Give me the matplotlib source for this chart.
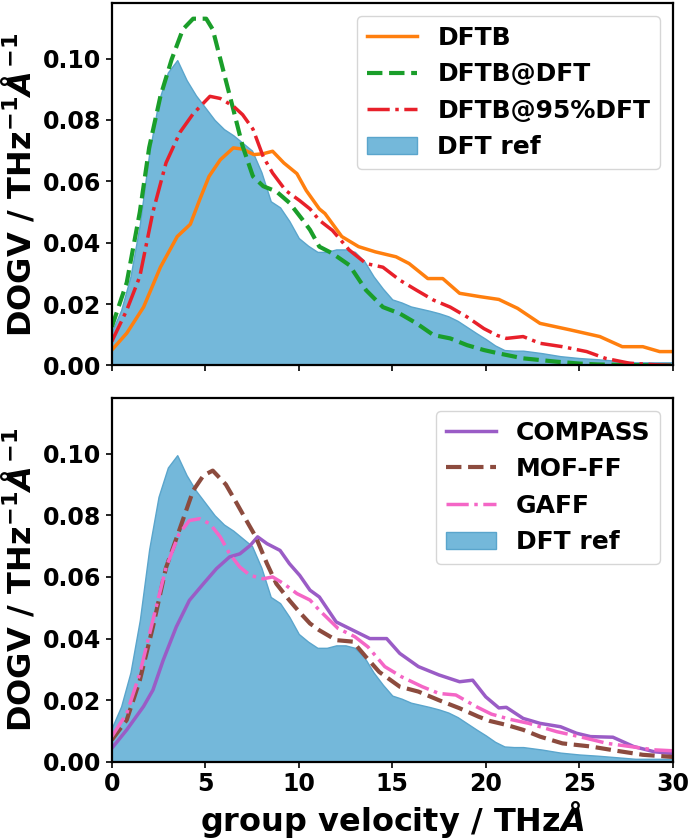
import numpy as np
import matplotlib
matplotlib.use("Agg")
import matplotlib.pyplot as plt

plt.rcParams['font.family'] = ['DejaVu Sans']
plt.rcParams['font.weight'] = 'bold'
plt.rcParams['mathtext.fontset'] = 'custom'
plt.rcParams['mathtext.rm'] = 'DejaVu Sans:bold'
plt.rcParams['mathtext.bf'] = 'DejaVu Sans:bold'
plt.rcParams['mathtext.it'] = 'DejaVu Sans:bold:italic'

# ---- DFT reference ----
ref_x = [0, 0.5, 1, 1.5, 2, 2.5, 3, 3.5, 4, 4.5, 5, 5.5, 6, 6.5, 7, 7.5, 8, 8.5, 9, 9.5,
         10, 10.5, 11, 11.5, 12, 12.5, 13, 13.5, 14, 14.5, 15, 15.5, 16, 16.5, 17, 17.5,
         18, 18.5, 19, 19.5, 20, 20.5, 21, 21.5, 22, 23, 24, 25, 26, 27, 28, 29, 30]
ref_y = [0.011, 0.018, 0.029, 0.046, 0.069, 0.086, 0.0955, 0.0995, 0.093, 0.088, 0.084, 0.080,
         0.077, 0.075, 0.0725, 0.070, 0.063, 0.0535, 0.0515, 0.047, 0.0415, 0.039, 0.037, 0.037,
         0.0378, 0.0378, 0.037, 0.034, 0.029, 0.025, 0.0215, 0.0205, 0.0192, 0.0185, 0.0178,
         0.017, 0.016, 0.0145, 0.0125, 0.0105, 0.0086, 0.0065, 0.005, 0.0048, 0.0048, 0.004,
         0.003, 0.0024, 0.002, 0.0015, 0.001, 0.001, 0.001]

# ---- top panel ----
dftb_x = [0, 0.8, 1.7, 2.6, 3.5, 4.2, 4.7, 5.2, 5.8, 6.5, 7.0, 7.6, 8.1, 8.6, 9.2, 9.9, 10.4,
          11.1, 11.4, 12.3, 13.2, 14.1, 15.2, 15.9, 16.9, 17.7, 18.6, 19.7, 20.7, 21.7, 22.9,
          24.5, 26.1, 27.3, 28.4, 29.3, 30]
dftb_y = [0.005, 0.0105, 0.019, 0.032, 0.042, 0.046, 0.054, 0.0616, 0.067, 0.0709, 0.0705,
          0.0687, 0.069, 0.0698, 0.066, 0.0625, 0.057, 0.051, 0.0495, 0.042, 0.0387, 0.037,
          0.0354, 0.0332, 0.0283, 0.0283, 0.0235, 0.0224, 0.0215, 0.0186, 0.0137, 0.0116,
          0.0094, 0.0061, 0.0061, 0.0045, 0.0045]

dftbdft_x = [0, 0.8, 1.5, 2.0, 2.6, 3.2, 3.8, 4.35, 5.05, 5.4, 5.95, 6.5, 7.0, 7.55, 8.1, 8.8,
             9.5, 10.2, 10.6, 11.1, 11.8, 12.7, 13.6, 14.5, 15.4, 16.3, 17.2, 18.1, 19.0,
             19.9, 20.7, 22.0, 23.8, 25, 26, 28, 30]
dftbdft_y = [0.0125, 0.027, 0.050, 0.071, 0.0877, 0.0997, 0.1095, 0.113, 0.113, 0.1095,
             0.0964, 0.0834, 0.0714, 0.0616, 0.0584, 0.0567, 0.053, 0.0475, 0.0442, 0.0387,
             0.0365, 0.0327, 0.0245, 0.019, 0.0169, 0.0137, 0.0099, 0.0088, 0.0066, 0.005,
             0.0039, 0.0023, 0.0012, 0.0006, 0.0003, 0.0001, 0.0]

dftb95_x = [0, 0.8, 1.5, 2.2, 2.9, 3.65, 4.35, 5.25, 5.8, 6.5, 7.0, 7.55, 8.1, 8.6, 9.3,
            10.05, 10.6, 11.1, 11.8, 12.7, 13.6, 14.5, 15.4, 16.3, 17.2, 18.1, 19.0, 19.9,
            20.6, 21.1, 22.0, 22.9, 24.1, 25.4, 26.4, 27.7, 29.1, 30]
dftb95_y = [0.0078, 0.018, 0.029, 0.050, 0.066, 0.076, 0.082, 0.0877, 0.087, 0.0845, 0.0817,
            0.077, 0.068, 0.0627, 0.057, 0.0537, 0.051, 0.0473, 0.044, 0.0376, 0.0332, 0.032,
            0.0278, 0.0245, 0.0213, 0.019, 0.0158, 0.012, 0.0098, 0.0088, 0.0094, 0.0072,
            0.0061, 0.0045, 0.0023, 0.0007, 0.0002, 0.0]

# ---- bottom panel ----
compass_x = [0, 0.8, 1.7, 2.2, 2.75, 3.45, 4.15, 4.9, 5.6, 6.3, 6.85, 7.4, 7.8, 8.3, 9.0, 9.5,
             10.05, 10.6, 11.1, 12.0, 12.9, 13.8, 14.7, 15.4, 16.4, 17.5, 18.6, 19.3, 20.0,
             20.7, 21.1, 22.0, 22.9, 24.0, 24.85, 25.6, 26.8, 27.9, 29.0, 30]
compass_y = [0.0044, 0.0104, 0.018, 0.0233, 0.033, 0.0438, 0.0524, 0.0578, 0.0627, 0.0665,
             0.0675, 0.0702, 0.073, 0.0708, 0.0686, 0.0643, 0.0605, 0.0557, 0.0535, 0.0454,
             0.0427, 0.040, 0.040, 0.0352, 0.0309, 0.0282, 0.026, 0.0265, 0.0211, 0.0175,
             0.0177, 0.0141, 0.0125, 0.0114, 0.0093, 0.0082, 0.008, 0.005, 0.0033, 0.0027]

moff_x = [0, 0.8, 1.5, 2.2, 2.9, 3.6, 4.35, 4.9, 5.4, 6.1, 6.7, 7.2, 7.7, 8.3, 8.8, 9.5,
          10.05, 10.6, 11.1, 12.0, 12.9, 13.6, 14.3, 15.4, 16.4, 17.5, 18.6, 19.6, 20.2,
          21.1, 22.0, 22.9, 24.1, 25.6, 27.0, 28.4, 30]
moff_y = [0.0071, 0.0136, 0.0265, 0.0438, 0.063, 0.075, 0.088, 0.0929, 0.0945, 0.090, 0.0837,
          0.0783, 0.073, 0.0643, 0.0578, 0.0524, 0.0485, 0.0449, 0.0427, 0.0395, 0.039, 0.034,
          0.0292, 0.0244, 0.0228, 0.020, 0.0174, 0.0147, 0.0133, 0.012, 0.0104, 0.0082,
          0.006, 0.005, 0.0036, 0.0023, 0.0016]

gaff_x = [0, 0.8, 1.5, 2.2, 2.9, 3.6, 4.15, 4.7, 5.25, 5.8, 6.3, 6.85, 7.4, 8.1, 8.6, 9.2,
          9.9, 10.6, 11.1, 12.1, 13.0, 13.7, 14.6, 15.5, 16.6, 17.5, 18.4, 19.5, 20.3, 21.3,
          22.3, 23.8, 25.0, 26.5, 27.7, 29.0, 30]
gaff_y = [0.0082, 0.0157, 0.0287, 0.046, 0.063, 0.074, 0.0783, 0.0789, 0.0772, 0.073, 0.0675,
          0.0632, 0.0605, 0.0594, 0.060, 0.0578, 0.0546, 0.0525, 0.0492, 0.0433, 0.0406,
          0.0373, 0.0309, 0.0276, 0.0244, 0.0222, 0.0217, 0.0179, 0.0155, 0.0138, 0.0125,
          0.0098, 0.0082, 0.006, 0.005, 0.0039, 0.0036]

x_ticks = [0, 5, 10, 15, 20, 25, 30]
y_ticks = [0.00, 0.02, 0.04, 0.06, 0.08, 0.10]

fill_col = '#74b8da'
fill_edge = '#5aa5cc'
ylab = r'DOGV / THz$^{-1}\AA^{-1}$'

fig = plt.figure(figsize=(6.9, 8.4), dpi=100)
ax1 = fig.add_axes([0.162, 0.565, 0.813, 0.431])
ax2 = fig.add_axes([0.162, 0.093, 0.813, 0.433])

ax1.plot(dftb_x, dftb_y, color='#ff7f0e', lw=2.5, ls='-', label='DFTB')
ax1.plot(dftbdft_x, dftbdft_y, color='#1a9e2a', lw=3, ls='--', label='DFTB@DFT')
ax1.plot(dftb95_x, dftb95_y, color='#e8202a', lw=2.5, ls='-.', label='DFTB@95%DFT')
ax1.fill_between(ref_x, ref_y, color=fill_col, edgecolor=fill_edge, lw=1, label='DFT ref')

ax2.plot(compass_x, compass_y, color='#9a5cc6', lw=2.5, ls='-', label='COMPASS')
ax2.plot(moff_x, moff_y, color='#8c4b3e', lw=3, ls='--', label='MOF-FF')
ax2.plot(gaff_x, gaff_y, color='#f466c6', lw=2.5, ls='-.', label='GAFF')
ax2.fill_between(ref_x, ref_y, color=fill_col, edgecolor=fill_edge, lw=1, label='DFT ref')

for ax in (ax1, ax2):
    ax.set_xlim(0, 30)
    ax.set_ylim(0, 0.118)
    ax.set_xticks(x_ticks)
    ax.set_yticks(y_ticks)
    ax.set_yticklabels([f'{v:.2f}' for v in y_ticks])
    ax.tick_params(labelsize=17, width=1.2, length=4)
    for s in ax.spines.values():
        s.set_linewidth(1.6)
    ax.set_ylabel(ylab, fontsize=23, fontweight='bold', labelpad=4)
    ax.legend(loc='upper right', prop={'weight': 'bold', 'size': 18},
              handlelength=2.0, borderaxespad=0.5)

ax1.set_xticklabels([])
ax2.set_xticklabels([str(t) for t in x_ticks])
ax2.set_xlabel(r'group velocity / THz$\AA$', fontsize=23, fontweight='bold', labelpad=2)

fig.savefig('out.png', dpi=100)
